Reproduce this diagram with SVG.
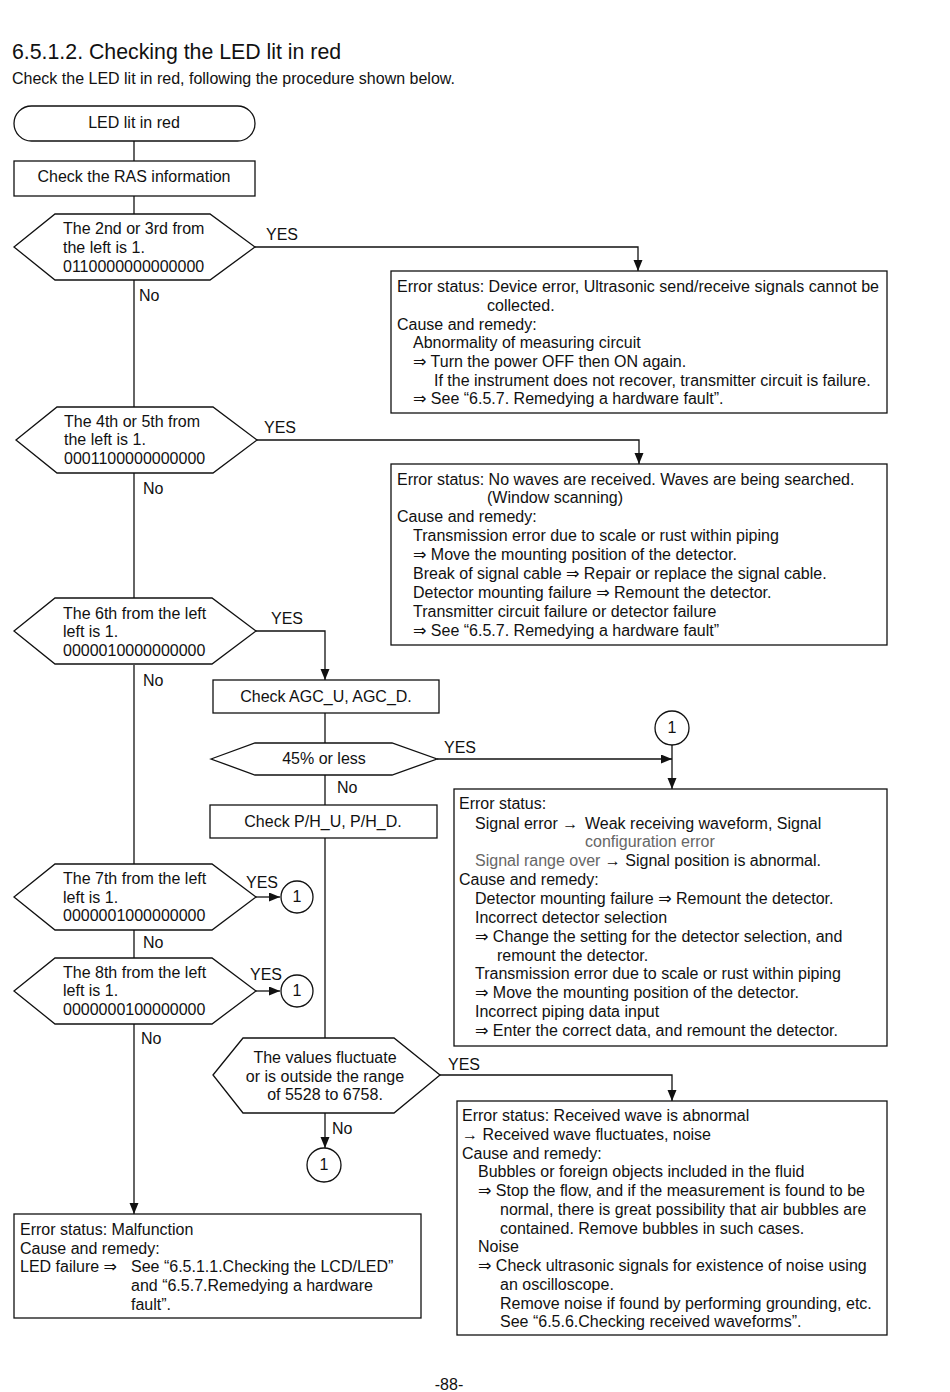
<svg xmlns="http://www.w3.org/2000/svg" width="950" height="1392" viewBox="0 0 950 1392">
<defs>
<marker id="arr" markerUnits="userSpaceOnUse" markerWidth="12" markerHeight="10" refX="11" refY="4.5" orient="auto">
<path d="M0,0 L11,4.5 L0,9 z" fill="#111"/>
</marker>
<style>
text{font-family:"Liberation Sans",Arial,"DejaVu Sans",sans-serif;font-size:16px;fill:#111}
.title{font-size:21.3px}
.c{text-anchor:middle}
.g{fill:#666}
.shape{fill:#fff;stroke:#111;stroke-width:1.3}
.line{fill:none;stroke:#111;stroke-width:1.3}
.ar{marker-end:url(#arr)}
</style>
</defs>
<rect width="950" height="1392" fill="#fff"/>
<text class="title" x="12" y="59">6.5.1.2. Checking the LED lit in red</text>
<text x="12" y="84">Check the LED lit in red, following the procedure shown below.</text>

<g id="connectors">
<path class="line" d="M134,141 V161"/>
<path class="line" d="M134,196 V214"/>
<path class="line" d="M134,280 V407"/>
<path class="line" d="M134,473 V598"/>
<path class="line" d="M134,665 V864"/>
<path class="line" d="M134,930 V958"/>
<path class="line ar" d="M134,1024 V1214"/>
<path class="line ar" d="M255,247 H638 V271"/>
<path class="line ar" d="M257,440 H639 V464"/>
<path class="line ar" d="M256,631 H325 V680"/>
<path class="line" d="M325,713 V743"/>
<path class="line ar" d="M437,759 H672"/>
<path class="line ar" d="M672,745 V789"/>
<path class="line" d="M325,775 V805"/>
<path class="line" d="M325,838 V1038"/>
<path class="line ar" d="M440,1075 H672 V1101"/>
<path class="line ar" d="M325,1113 V1148"/>
<path class="line ar" d="M256,897 H280"/>
<path class="line ar" d="M256,991 H280"/>
<text x="266" y="240">YES</text>
<text x="139" y="301">No</text>
<text x="264" y="433">YES</text>
<text x="143" y="494">No</text>
<text x="271" y="624">YES</text>
<text x="143" y="686">No</text>
<text x="444" y="753">YES</text>
<text x="337" y="793">No</text>
<text x="246" y="888">YES</text>
<text x="143" y="948">No</text>
<text x="250" y="980">YES</text>
<text x="141" y="1044">No</text>
<text x="448" y="1070">YES</text>
<text x="332" y="1134">No</text>
</g>

<g id="start">
<rect class="shape" x="14" y="106" width="241" height="35" rx="17.5"/>
<text class="c" x="134" y="128">LED lit in red</text>
</g>

<g id="check-ras">
<rect class="shape" x="14" y="161" width="241" height="35"/>
<text class="c" x="134" y="182">Check the RAS information</text>
</g>

<g id="dec-2nd3rd">
<polygon class="shape" points="14,247 55,214 210,214 255,247 210,280 55,280"/>
<text x="63" y="234">The 2nd or 3rd from</text>
<text x="63" y="253">the left is 1.</text>
<text x="63" y="272">0110000000000000</text>
</g>

<g id="box-device-error">
<rect class="shape" x="391" y="271" width="496" height="142"/>
<text x="397" y="292">Error status: Device error, Ultrasonic send/receive signals cannot be</text>
<text x="487" y="311">collected.</text>
<text x="397" y="330">Cause and remedy:</text>
<text x="413" y="348">Abnormality of measuring circuit</text>
<text x="413" y="367">⇒ Turn the power OFF then ON again.</text>
<text x="434" y="386">If the instrument does not recover, transmitter circuit is failure.</text>
<text x="413" y="404">⇒ See “6.5.7. Remedying a hardware fault”.</text>
</g>

<g id="dec-4th5th">
<polygon class="shape" points="16,440 57,407 213,407 257,440 213,473 57,473"/>
<text x="64" y="427">The 4th or 5th from</text>
<text x="64" y="445">the left is 1.</text>
<text x="64" y="464">0001100000000000</text>
</g>

<g id="box-no-waves">
<rect class="shape" x="391" y="464" width="496" height="181"/>
<text x="397" y="485">Error status: No waves are received. Waves are being searched.</text>
<text x="487" y="503">(Window scanning)</text>
<text x="397" y="522">Cause and remedy:</text>
<text x="413" y="541">Transmission error due to scale or rust within piping</text>
<text x="413" y="560">⇒ Move the mounting position of the detector.</text>
<text x="413" y="579">Break of signal cable ⇒ Repair or replace the signal cable.</text>
<text x="413" y="598">Detector mounting failure ⇒ Remount the detector.</text>
<text x="413" y="617">Transmitter circuit failure or detector failure</text>
<text x="413" y="636">⇒ See “6.5.7. Remedying a hardware fault”</text>
</g>

<g id="dec-6th">
<polygon class="shape" points="14,631 55,598 212,598 256,631 212,664 55,664"/>
<text x="63" y="619">The 6th from the left</text>
<text x="63" y="637">left is 1.</text>
<text x="63" y="656">0000010000000000</text>
</g>

<g id="check-agc">
<rect class="shape" x="213" y="680" width="226" height="33"/>
<text class="c" x="326" y="702">Check AGC_U, AGC_D.</text>
</g>

<g id="dec-45">
<polygon class="shape" points="211,759 255,743 392,743 437,759 392,775 255,775"/>
<text class="c" x="324" y="764">45% or less</text>
</g>

<g id="conn-1-top">
<circle class="shape" cx="672" cy="728" r="17"/>
<text class="c" x="672" y="733">1</text>
</g>

<g id="check-ph">
<rect class="shape" x="210" y="805" width="227" height="33"/>
<text class="c" x="323" y="827">Check P/H_U, P/H_D.</text>
</g>

<g id="box-signal-error">
<rect class="shape" x="454" y="789" width="433" height="257"/>
<text x="459" y="809">Error status:</text>
<text x="475" y="829">Signal error →</text>
<text x="585" y="829">Weak receiving waveform, Signal</text>
<text class="g" x="585" y="847">configuration error</text>
<text x="475" y="866"><tspan class="g">Signal range over</tspan> → Signal position is abnormal.</text>
<text x="459" y="885">Cause and remedy:</text>
<text x="475" y="904">Detector mounting failure ⇒ Remount the detector.</text>
<text x="475" y="923">Incorrect detector selection</text>
<text x="475" y="942">⇒ Change the setting for the detector selection, and</text>
<text x="497" y="961">remount the detector.</text>
<text x="475" y="979">Transmission error due to scale or rust within piping</text>
<text x="475" y="998">⇒ Move the mounting position of the detector.</text>
<text x="475" y="1017">Incorrect piping data input</text>
<text x="475" y="1036">⇒ Enter the correct data, and remount the detector.</text>
</g>

<g id="dec-7th">
<polygon class="shape" points="14,897 55,864 212,864 256,897 212,930 55,930"/>
<text x="63" y="884">The 7th from the left</text>
<text x="63" y="903">left is 1.</text>
<text x="63" y="921">0000001000000000</text>
</g>
<g id="conn-1-7th">
<circle class="shape" cx="297" cy="897" r="16"/>
<text class="c" x="297" y="902">1</text>
</g>

<g id="dec-8th">
<polygon class="shape" points="14,991 55,958 212,958 256,991 212,1024 55,1024"/>
<text x="63" y="978">The 8th from the left</text>
<text x="63" y="996">left is 1.</text>
<text x="63" y="1015">0000000100000000</text>
</g>
<g id="conn-1-8th">
<circle class="shape" cx="297" cy="991" r="16"/>
<text class="c" x="297" y="996">1</text>
</g>

<g id="dec-fluct">
<polygon class="shape" points="213,1075 243,1038 394,1038 440,1075 394,1113 243,1113"/>
<text class="c" x="325" y="1063">The values fluctuate</text>
<text class="c" x="325" y="1082">or is outside the range</text>
<text class="c" x="325" y="1100">of 5528 to 6758.</text>
</g>

<g id="conn-1-bottom">
<circle class="shape" cx="324" cy="1165" r="17"/>
<text class="c" x="324" y="1170">1</text>
</g>

<g id="box-received-wave">
<rect class="shape" x="457" y="1101" width="430" height="234"/>
<text x="462" y="1121">Error status: Received wave is abnormal</text>
<text x="462" y="1140">→ Received wave fluctuates, noise</text>
<text x="462" y="1159">Cause and remedy:</text>
<text x="478" y="1177">Bubbles or foreign objects included in the fluid</text>
<text x="478" y="1196">⇒ Stop the flow, and if the measurement is found to be</text>
<text x="500" y="1215">normal, there is great possibility that air bubbles are</text>
<text x="500" y="1234">contained. Remove bubbles in such cases.</text>
<text x="478" y="1252">Noise</text>
<text x="478" y="1271">⇒ Check ultrasonic signals for existence of noise using</text>
<text x="500" y="1290">an oscilloscope.</text>
<text x="500" y="1309">Remove noise if found by performing grounding, etc.</text>
<text x="500" y="1327">See “6.5.6.Checking received waveforms”.</text>
</g>

<g id="box-malfunction">
<rect class="shape" x="14" y="1214" width="407" height="104"/>
<text x="20" y="1235">Error status: Malfunction</text>
<text x="20" y="1254">Cause and remedy:</text>
<text x="20" y="1272">LED failure ⇒</text>
<text x="131" y="1272">See “6.5.1.1.Checking the LCD/LED”</text>
<text x="131" y="1291">and “6.5.7.Remedying a hardware</text>
<text x="131" y="1310">fault”.</text>
</g>

<text class="c" x="449" y="1390">-88-</text>
</svg>
